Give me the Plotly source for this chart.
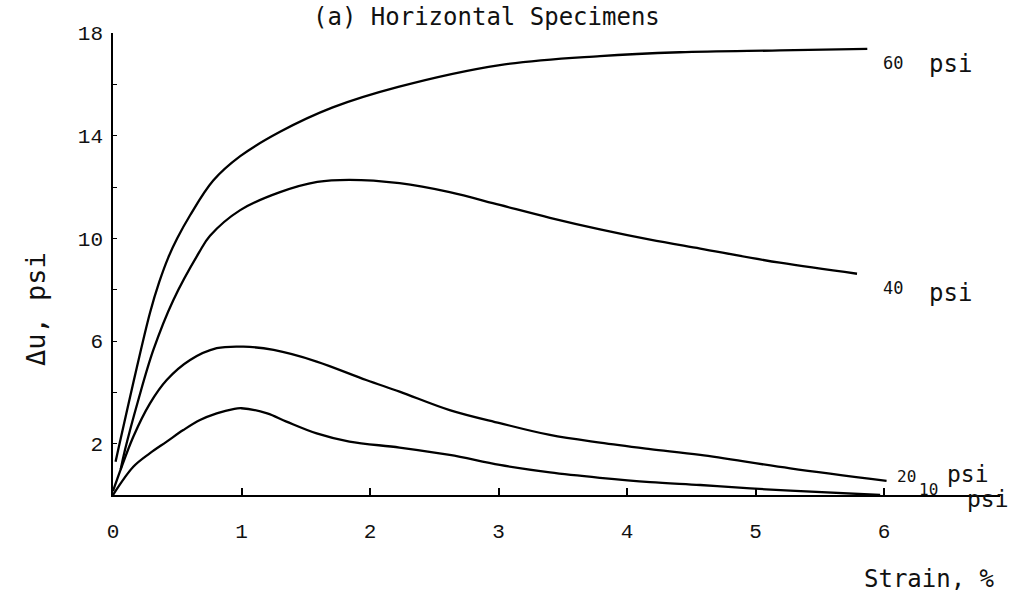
import plotly.graph_objects as go

# ---- data ----
x_60 = [0.02, 0.04, 0.158, 0.288, 0.36, 0.43, 0.5, 0.6, 0.78, 0.99, 1.3, 1.71, 2.22, 3.01, 3.79, 4.41, 5.19, 5.87]
y_60 = [1.3, 1.75, 4.37, 7.1, 8.3, 9.25, 10.0, 10.9, 12.25, 13.2, 14.15, 15.1, 15.9, 16.75, 17.1, 17.25, 17.32, 17.38]

x_40 = [0.06, 0.093, 0.197, 0.314, 0.47, 0.67, 0.755, 0.99, 1.3, 1.59, 1.84, 2.23, 2.62, 3.01, 3.4, 3.79, 4.18, 4.57, 5.19, 5.79]
y_40 = [1.0, 1.75, 3.7, 5.65, 7.6, 9.45, 10.1, 11.1, 11.8, 12.2, 12.28, 12.15, 11.8, 11.3, 10.8, 10.35, 9.95, 9.6, 9.05, 8.62]

x_20 = [0.0, 0.03, 0.158, 0.288, 0.418, 0.6, 0.807, 1.014, 1.25, 1.585, 1.97, 2.23, 2.62, 3.01, 3.4, 3.79, 4.18, 4.57, 5.27, 6.02]
y_20 = [0.15, 0.58, 2.27, 3.57, 4.48, 5.26, 5.72, 5.78, 5.65, 5.2, 4.48, 4.03, 3.31, 2.8, 2.34, 2.04, 1.79, 1.56, 1.04, 0.55]

x_10 = [0.0, 0.158, 0.288, 0.418, 0.547, 0.677, 0.807, 0.936, 1.0, 1.2, 1.35, 1.585, 1.84, 2.23, 2.62, 3.01, 3.4, 3.79, 4.18, 4.57, 4.96, 5.27, 5.97]
y_10 = [0.0, 1.1, 1.63, 2.08, 2.53, 2.92, 3.18, 3.35, 3.38, 3.18, 2.86, 2.4, 2.08, 1.85, 1.56, 1.17, 0.88, 0.67, 0.5, 0.39, 0.26, 0.17, 0.0]

x_ticks = [0, 1, 2, 3, 4, 5, 6]
y_ticks = [0, 2, 4, 6, 8, 10, 12, 14, 16, 18]
y_ticktext = ["", "2", "", "6", "", "10", "", "14", "", "18"]

series = [(x_60, y_60, "60 psi"), (x_40, y_40, "40 psi"), (x_20, y_20, "20 psi"), (x_10, y_10, "10 psi")]

# ---- layout geometry ----
W, H = 1018, 599
L, R, T, B = 113, 18, 33, 104
PW, PH = W - L - R, H - T - B

def px(xp):
    return (xp - L) / PW

def py(yp):
    return (H - B - yp) / PH

fig = go.Figure()
for xs, ys, name in series:
    fig.add_trace(go.Scatter(x=xs, y=ys, mode="lines", name=name,
                             line=dict(color="black", width=2.3, shape="spline", smoothing=1.0),
                             showlegend=False, hoverinfo="skip"))

MONO = "DejaVu Sans Mono"
TICKF = "Liberation Mono"

annos = [
    dict(text="(a) Horizontal Specimens", x=px(486), y=py(17), size=24, font=MONO),
    dict(text="60", x=px(893), y=py(63), size=17, font=MONO),
    dict(text="psi", x=px(950), y=py(64), size=24, font=MONO),
    dict(text="40", x=px(893), y=py(288), size=17, font=MONO),
    dict(text="psi", x=px(950), y=py(293), size=24, font=MONO),
    dict(text="20", x=px(906), y=py(476), size=16, font=MONO),
    dict(text="psi", x=px(968), y=py(474), size=23, font=MONO),
    dict(text="10", x=px(928), y=py(489), size=16, font=MONO),
    dict(text="psi", x=px(988), y=py(499), size=23, font=MONO),
    dict(text="Strain, %", x=px(929), y=py(579), size=24, font=MONO),
]
for a in annos:
    fig.add_annotation(text=a["text"], x=a["x"], y=a["y"], xref="paper", yref="paper",
                       xanchor="center", yanchor="middle", showarrow=False,
                       font=dict(family=a["font"], size=a["size"], color="#111111"))

fig.add_annotation(text="Δu, psi", x=px(35), y=py(309), xref="paper", yref="paper",
                   xanchor="center", yanchor="middle", showarrow=False, textangle=-90,
                   font=dict(family=MONO, size=27, color="#111111"))

fig.update_layout(
    width=W, height=H,
    margin=dict(l=L, r=R, t=T, b=B, pad=0),
    paper_bgcolor="white", plot_bgcolor="white",
    xaxis=dict(range=[0, PW / 128.5], tickvals=x_ticks, ticktext=[str(v) for v in x_ticks],
               showline=True, linecolor="black", linewidth=1.5,
               ticks="inside", ticklen=7, tickwidth=1.5, tickcolor="black",
               showgrid=False, zeroline=False, ticklabelstandoff=16,
               tickfont=dict(family=TICKF, size=21, color="#111111")),
    yaxis=dict(range=[0, 18], tickvals=y_ticks, ticktext=y_ticktext,
               showline=True, linecolor="black", linewidth=1.5,
               ticks="inside", ticklen=4, tickwidth=1.2, tickcolor="black",
               showgrid=False, zeroline=False, ticklabelstandoff=4,
               tickfont=dict(family=TICKF, size=21, color="#111111")),
)

fig.write_html("out.html")
